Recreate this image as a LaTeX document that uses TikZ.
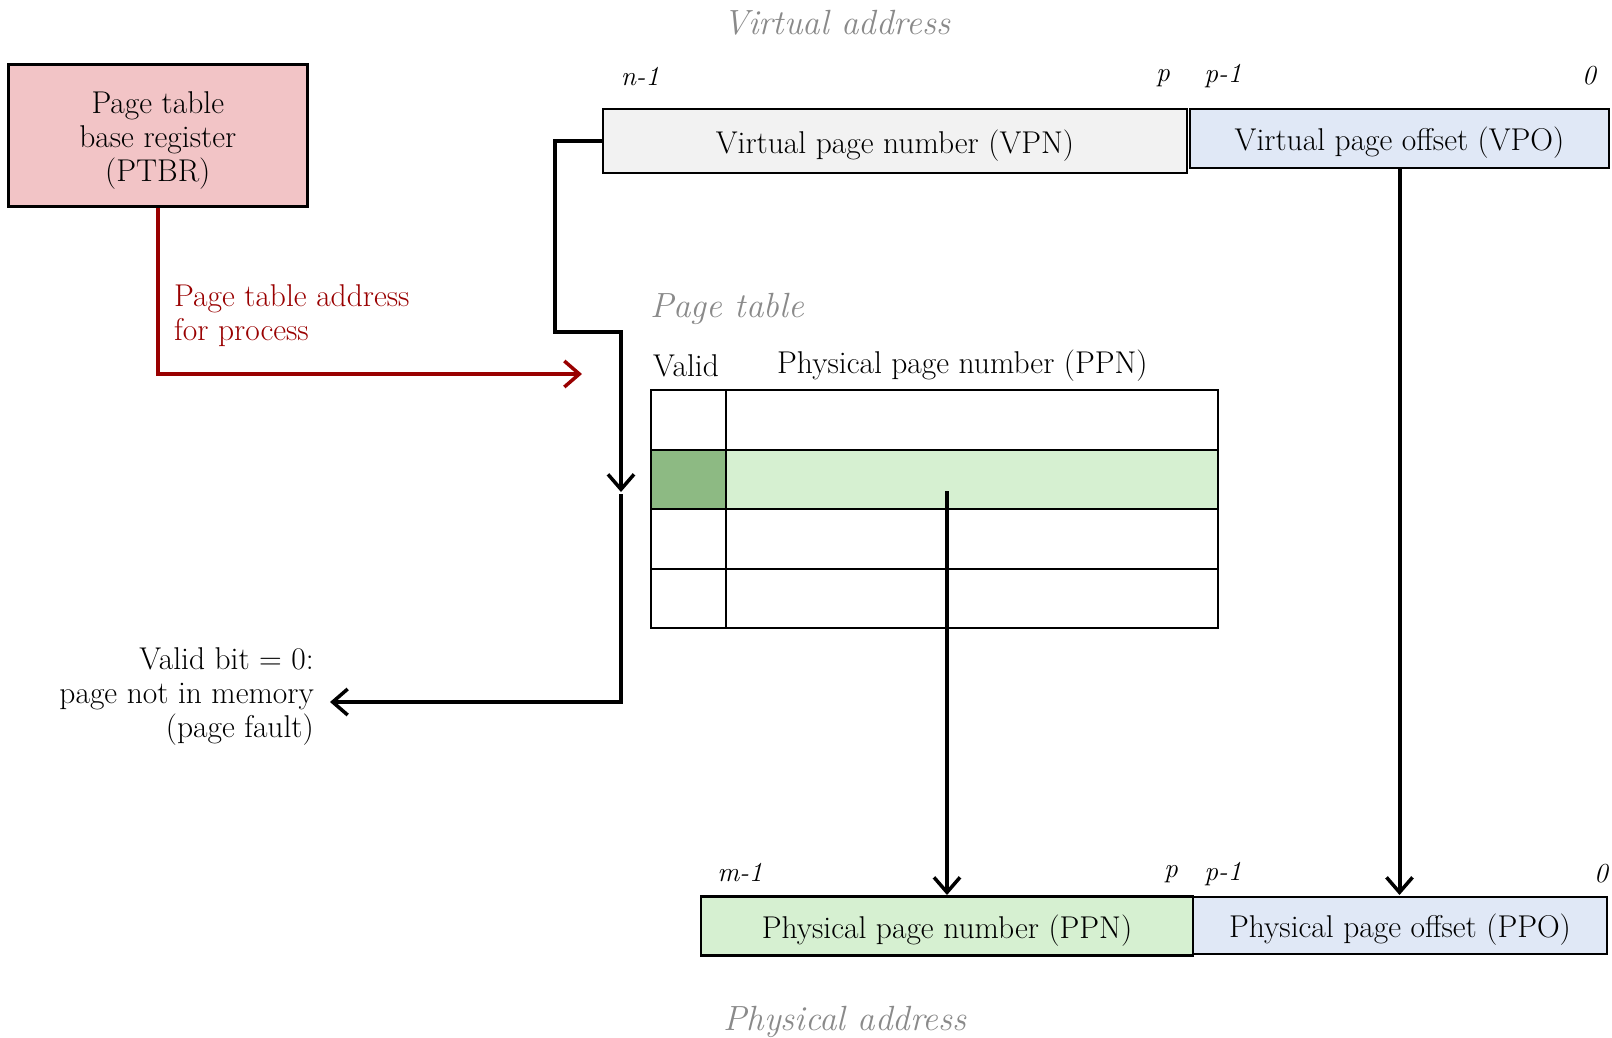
\documentclass[tikz,border=0pt]{standalone}
\usetikzlibrary{arrows.meta}
\definecolor{ptbrfill}{HTML}{F2C4C6}
\definecolor{darkred}{HTML}{990000}
\definecolor{vpnfill}{HTML}{F2F2F2}
\definecolor{bluefill}{HTML}{E0E8F6}
\definecolor{lgreen}{HTML}{D6F0D1}
\definecolor{dgreen}{HTML}{8DBA83}
\definecolor{titlegray}{HTML}{8A8A8A}
\tikzset{
  txt/.style={font=\fontsize{31.5}{34}\selectfont, inner sep=0pt},
  ttl/.style={font=\fontsize{35}{40}\selectfont\itshape, text=titlegray, inner sep=0pt},
  bitlbl/.style={font=\fontsize{27.5}{30}\selectfont\itshape, inner sep=0pt},
  field/.style={draw=black, line width=2.5pt, rectangle, inner sep=0pt, text height=24pt, text depth=0pt, font=\fontsize{31.5}{34}\selectfont},
  cell/.style={draw=black, line width=2.2pt, rectangle, inner sep=0pt, anchor=north west},
  conn/.style={line width=4pt, -{Straight Barb[length=15pt,width=26pt,line width=3.5pt]}},
  redconn/.style={line width=4pt, darkred, -{Straight Barb[length=15pt,width=26pt,line width=3.5pt]}}
}
\begin{document}
\begin{tikzpicture}[x=1pt,y=-1pt]
\useasboundingbox (0,0) rectangle (1612,1037);
% titles
\node[ttl] (vatitle) at (837,23) {Virtual address};
\node[ttl] (patitle) at (845,1022) {Physical address};
\node[ttl, anchor=west] (pttitle) at (650,309) {Page table};
% PTBR
\node[draw=black, line width=2.5pt, fill=ptbrfill, minimum width=299, minimum height=142, inner sep=0pt] (ptbr) at (157.8,135.7) {};
\node[txt, align=center] (ptbrtxt) at (157.8,140.5) {Page table\\base register\\(PTBR)};
\node[txt, text=darkred, anchor=west, align=left] (ptlabel) at (174,316) {Page table address\\for process};
% virtual address fields
\node[field, fill=vpnfill, minimum width=584, minimum height=64] (vpn) at (895,141) {Virtual page number (VPN)};
\node[field, fill=bluefill, minimum width=419, minimum height=59] (vpo) at (1399.5,138.5) {Virtual page offset (VPO)};
\node[bitlbl] (vn1) at (640,76) {n-1};
\node[bitlbl] (vp) at (1163,78) {p};
\node[bitlbl] (vp1) at (1223,76) {p-1};
\node[bitlbl] (v0) at (1589,76) {0};
% page table header
\node[txt, anchor=west] (validhdr) at (653,366) {Valid};
\node[txt, anchor=west] (ppnhdr) at (777,366) {Physical page number (PPN)};
% page table cells
\node[cell, minimum width=75, minimum height=59.5] (v1) at (650,389) {};
\node[cell, minimum width=492, minimum height=59.5] (p1) at (725,389) {};
\node[cell, fill=dgreen, minimum width=75, minimum height=59.5] (v2) at (650,448.5) {};
\node[cell, fill=lgreen, minimum width=492, minimum height=59.5] (p2) at (725,448.5) {};
\node[cell, minimum width=75, minimum height=59.5] (v3) at (650,508) {};
\node[cell, minimum width=492, minimum height=59.5] (p3) at (725,508) {};
\node[cell, minimum width=75, minimum height=59.5] (v4) at (650,567.5) {};
\node[cell, minimum width=492, minimum height=59.5] (p4) at (725,567.5) {};
% physical address fields
\node[field, fill=lgreen, minimum width=492, minimum height=59] (ppn) at (947,926) {Physical page number (PPN)};
\node[field, fill=bluefill, minimum width=414, minimum height=57] (ppo) at (1400,925.5) {Physical page offset (PPO)};
\node[bitlbl] (pm1) at (740,872) {m-1};
\node[bitlbl] (pp) at (1171,874) {p};
\node[bitlbl] (pp1) at (1223,874) {p-1};
\node[bitlbl] (p0) at (1601,874) {0};
% fault label
\node[txt, anchor=east, align=right] (fault) at (314,696) {Valid bit = 0:\\page not in memory\\(page fault)};
% coordinates
\coordinate (c1) at (555,141);
\coordinate (c2) at (555,332);
\coordinate (c3) at (621,332);
\coordinate (c4) at (621,492);
\coordinate (c5) at (621,494);
\coordinate (c6) at (621,702);
\coordinate (c7) at (330,702);
\coordinate (r1) at (157.8,374);
\coordinate (r2) at (582,374);
\coordinate (g1) at (947,491);
\coordinate (g2) at (947,895);
\coordinate (o2) at (1399.5,895);
% connectors
\draw[conn] (vpn.west) -- (c1) -- (c2) -- (c3) -- (c4);
\draw[conn] (c5) -- (c6) -- (c7);
\draw[redconn] (ptbr.south) -- (r1) -- (r2);
\draw[conn] (g1) -- (g2);
\draw[conn] (vpo.south) -- (o2);
\end{tikzpicture}
\end{document}
